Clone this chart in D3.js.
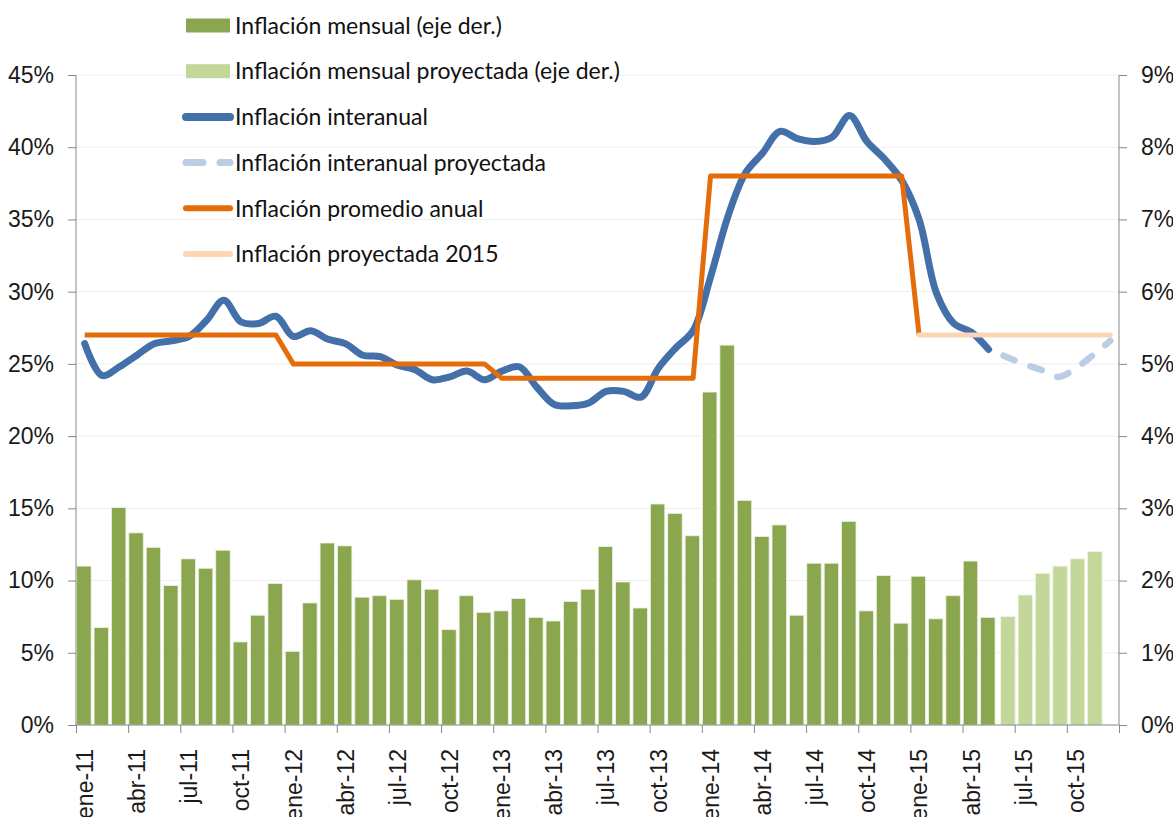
<!DOCTYPE html>
<html lang="es">
<head>
<meta charset="UTF-8">
<title>Inflación</title>
<script src="https://cdnjs.cloudflare.com/ajax/libs/d3/7.8.5/d3.min.js"></script>
<style>
  body { margin: 0; background: #fff; }
  svg { display: block; font-family: Lato, "DejaVu Sans", sans-serif; }
  .axis path, .axis line { stroke: #878787; }
  .axis text { fill: #1a1a1a; font-size: 23px; }
  .legend text { fill: #111; font-size: 23px; }
</style>
</head>
<body>
<div id="chart"></div>
<script>
// categorías: meses ene-11 ... dic-15
const meses = ["ene", "feb", "mar", "abr", "may", "jun", "jul", "ago", "sep", "oct", "nov", "dic"];
const anios = ["11", "12", "13", "14", "15"];
const categorias = [];
anios.forEach(a => meses.forEach(m => categorias.push(m + "-" + a)));

// inflación mensual observada (eje der., %), ene-11 a may-15
const mensual = [
  2.20, 1.35, 3.01, 2.66, 2.46, 1.93, 2.30, 2.17, 2.42, 1.15, 1.52, 1.96,
  1.02, 1.69, 2.52, 2.48, 1.77, 1.79, 1.74, 2.01, 1.88, 1.32, 1.79, 1.56,
  1.58, 1.75, 1.49, 1.44, 1.71, 1.88, 2.47, 1.98, 1.62, 3.06, 2.93, 2.62,
  4.61, 5.26, 3.11, 2.61, 2.77, 1.52, 2.24, 2.24, 2.82, 1.58, 2.07, 1.41,
  2.06, 1.47, 1.79, 2.27, 1.49
];
// inflación mensual proyectada (eje der., %), jun-15 a nov-15
const mensualProy = [1.5, 1.8, 2.1, 2.2, 2.3, 2.4];
const inicioProy = 53;

// inflación interanual (%), ene-11 a may-15
const interanual = [
  26.4, 24.2, 24.8, 25.6, 26.4, 26.6, 26.9, 28.0, 29.4, 27.9, 27.8, 28.3,
  26.9, 27.3, 26.7, 26.4, 25.6, 25.5, 24.9, 24.6, 23.9, 24.1, 24.5, 23.9,
  24.5, 24.8, 23.4, 22.2, 22.1, 22.3, 23.1, 23.1, 22.7, 24.7, 26.1, 27.3,
  31.0, 35.2, 38.2, 39.6, 41.1, 40.6, 40.4, 40.7, 42.2, 40.4, 39.2, 37.7,
  35.0, 29.9, 27.8, 27.2, 26.0
];
// inflación interanual proyectada (%), may-15 a dic-15
const interanualProy = [26.0, 25.5, 25.0, 24.6, 24.1, 24.7, 25.6, 26.6];
const inicioInteranualProy = 52;

// inflación promedio anual (%), ene-11 a ene-15
const promedioAnual = [
  27, 27, 27, 27, 27, 27, 27, 27, 27, 27, 27, 27,
  25, 25, 25, 25, 25, 25, 25, 25, 25, 25, 25, 25,
  24, 24, 24, 24, 24, 24, 24, 24, 24, 24, 24, 24,
  38, 38, 38, 38, 38, 38, 38, 38, 38, 38, 38, 38,
  27
];
// inflación proyectada 2015 (%), ene-15 a dic-15
const proyectada2015 = [27, 27, 27, 27, 27, 27, 27, 27, 27, 27, 27, 27];
const inicio2015 = 48;

const ticksIzq = [0, 5, 10, 15, 20, 25, 30, 35, 40, 45];
const ticksDer = [0, 1, 2, 3, 4, 5, 6, 7, 8, 9];

const leyenda = [
  { texto: "Inflación mensual (eje der.)", tipo: "rect", color: "#8aa64e" },
  { texto: "Inflación mensual proyectada (eje der.)", tipo: "rect", color: "#c4d79b" },
  { texto: "Inflación interanual", tipo: "line", color: "#4470a9", ancho: 8 },
  { texto: "Inflación interanual proyectada", tipo: "dash", color: "#b9cde5", ancho: 7 },
  { texto: "Inflación promedio anual", tipo: "line", color: "#e46c0a", ancho: 6 },
  { texto: "Inflación proyectada 2015", tipo: "line", color: "#fcd5b5", ancho: 6 }
];

const W = 1173, H = 817;
const margin = { top: 75, right: 54, bottom: 92, left: 76 };
const innerW = W - margin.left - margin.right;
const innerH = H - margin.top - margin.bottom;

const svg = d3.select("#chart").append("svg")
  .attr("width", W).attr("height", H);

const x = d3.scaleBand().domain(categorias).range([margin.left, margin.left + innerW]);
const xIdx = d3.scaleLinear().domain([0, categorias.length]).range([margin.left, margin.left + innerW]);
const yL = d3.scaleLinear().domain([0, 45]).range([margin.top + innerH, margin.top]);
const yR = d3.scaleLinear().domain([0, 9]).range([margin.top + innerH, margin.top]);

// grid
svg.append("g").selectAll("line")
  .data(ticksIzq.slice(1))
  .join("line")
  .attr("x1", margin.left).attr("x2", margin.left + innerW)
  .attr("y1", d => yL(d)).attr("y2", d => yL(d))
  .attr("stroke", "#efefef").attr("stroke-width", 1);

// barras
const anchoBarra = x.bandwidth() * 0.83;
const barras = mensual.map((v, i) => ({ cat: categorias[i], v, dx: 0.7, color: "#8aa64e" }))
  .concat(mensualProy.map((v, i) => ({ cat: categorias[inicioProy + i], v, dx: 3.4, color: "#c4d79b" })));

svg.append("g").selectAll("rect")
  .data(barras)
  .join("rect")
  .attr("x", d => x(d.cat) + d.dx)
  .attr("width", anchoBarra)
  .attr("y", d => yR(d.v))
  .attr("height", d => yR(0) - yR(d.v))
  .attr("fill", d => d.color)
  .attr("stroke", "#eef2e4")
  .attr("stroke-width", 0.8);

// ejes
const axB = svg.append("g").attr("class", "axis")
  .attr("transform", `translate(0,${yL(0)})`)
  .call(d3.axisBottom(xIdx).tickValues(d3.range(0, categorias.length + 1, 3)).tickSize(8).tickFormat(""));
axB.select(".domain").attr("d", `M${margin.left},0H${margin.left + innerW}`);

const axLab = svg.append("g").attr("class", "axis")
  .attr("transform", `translate(0,${yL(0)})`)
  .call(d3.axisBottom(x).tickValues(categorias.filter((c, i) => i % 3 === 0)).tickSize(0));
axLab.select(".domain").remove();
axLab.selectAll("text")
  .attr("transform", "rotate(-90)")
  .attr("x", -24).attr("y", 0).attr("dy", "0.36em")
  .style("text-anchor", "end");

const axL = svg.append("g").attr("class", "axis")
  .attr("transform", `translate(${margin.left},0)`)
  .call(d3.axisLeft(yL).tickValues(ticksIzq).tickSize(8).tickPadding(14).tickFormat(d => d + "%"));
axL.select(".domain").attr("d", `M0,${yL(45)}V${yL(0)}`);

const axR = svg.append("g").attr("class", "axis")
  .attr("transform", `translate(${margin.left + innerW},0)`)
  .call(d3.axisRight(yR).tickValues(ticksDer).tickSize(8).tickPadding(14).tickFormat(d => d + "%"));
axR.select(".domain").attr("d", `M0,${yR(9)}V${yR(0)}`);

// líneas
const cx = i => x(categorias[i]) + x.bandwidth() / 2;
const suave = d3.line().x(d => cx(d.i)).y(d => yL(d.v)).curve(d3.curveCatmullRom.alpha(0.5));
const recta = d3.line().x(d => cx(d.i)).y(d => yL(d.v));

svg.append("path")
  .datum(interanual.map((v, i) => ({ i, v })))
  .attr("d", suave)
  .attr("fill", "none").attr("stroke", "#4470a9").attr("stroke-width", 7)
  .attr("stroke-linecap", "round").attr("stroke-linejoin", "round");

svg.append("path")
  .datum(interanualProy.map((v, i) => ({ i: inicioInteranualProy + i, v })))
  .attr("d", suave)
  .attr("fill", "none").attr("stroke", "#b9cde5").attr("stroke-width", 6.5)
  .attr("stroke-linecap", "round").attr("stroke-dasharray", "12,17").attr("stroke-dashoffset", -16);

svg.append("path")
  .datum(promedioAnual.map((v, i) => ({ i, v })))
  .attr("d", recta)
  .attr("fill", "none").attr("stroke", "#e46c0a").attr("stroke-width", 5)
  .attr("stroke-linejoin", "round");

svg.append("path")
  .datum(proyectada2015.map((v, i) => ({ i: inicio2015 + i, v })))
  .attr("d", recta)
  .attr("fill", "none").attr("stroke", "#fcd5b5").attr("stroke-width", 5)
  .attr("stroke-linecap", "round");

// leyenda
const leg = svg.append("g").attr("class", "legend")
  .selectAll("g")
  .data(leyenda)
  .join("g")
  .attr("transform", (d, i) => `translate(0,${25.5 + i * 45.7})`);

leg.filter(d => d.tipo === "rect").append("rect")
  .attr("x", 186).attr("y", -7).attr("width", 44).attr("height", 14)
  .attr("fill", d => d.color);

leg.filter(d => d.tipo !== "rect").append("line")
  .attr("x1", 186).attr("x2", 230)
  .attr("stroke", d => d.color)
  .attr("stroke-width", d => d.ancho)
  .attr("stroke-linecap", "round")
  .attr("stroke-dasharray", d => d.tipo === "dash" ? "17,17" : null);

leg.append("text")
  .attr("x", 235).attr("dy", "0.36em")
  .text(d => d.texto);
</script>
</body>
</html>
